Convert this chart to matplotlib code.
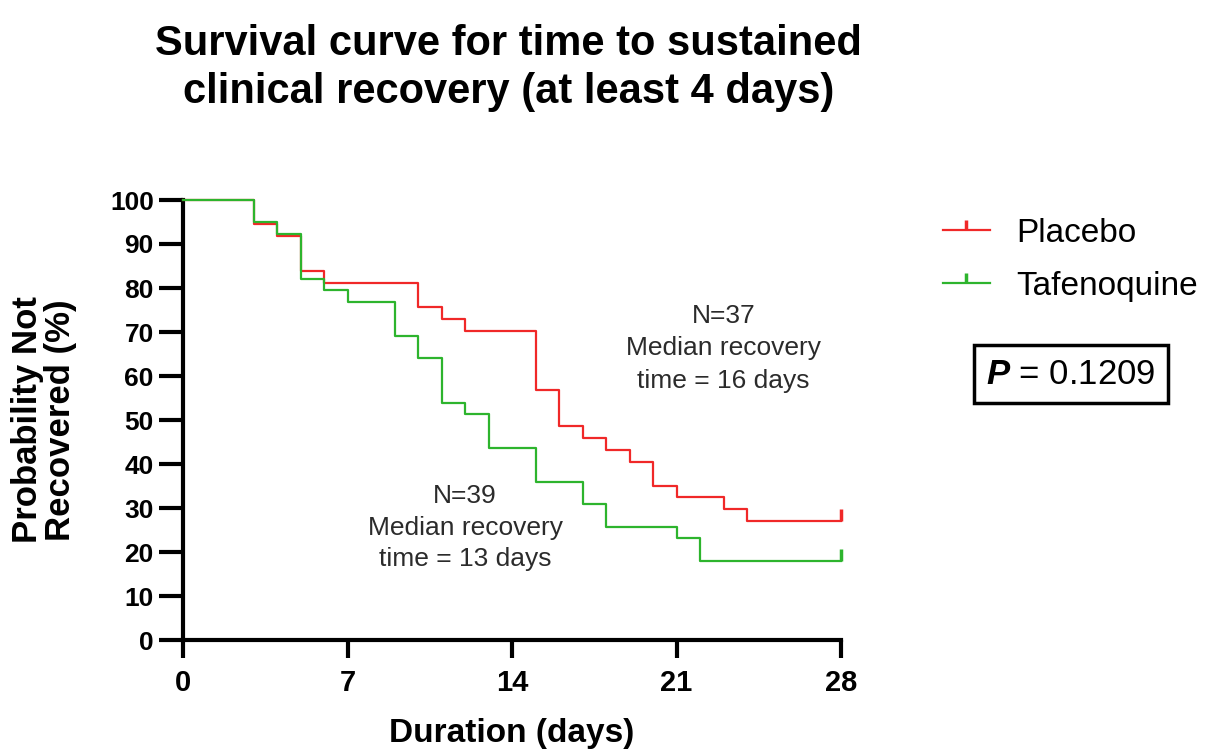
import matplotlib
matplotlib.use("Agg")
import matplotlib.pyplot as plt
from matplotlib.lines import Line2D

# 資料 (Kaplan-Meier steps)
placebo_days = [0, 3, 4, 5, 6, 10, 11, 12, 15, 16, 17, 18, 19, 20, 21, 23, 24, 28]
placebo_surv = [100, 94.6, 91.9, 83.8, 81.1, 75.7, 73.0, 70.3, 56.8, 48.6, 45.9,
                43.2, 40.5, 35.1, 32.4, 29.7, 27.0, 27.0]
tafeno_days = [0, 3, 4, 5, 6, 7, 9, 10, 11, 12, 13, 15, 17, 18, 21, 22, 28]
tafeno_surv = [100, 94.9, 92.3, 82.1, 79.5, 76.9, 69.2, 64.1, 53.8, 51.3, 43.6,
               35.9, 30.8, 25.6, 23.1, 17.9, 17.9]
x_ticks = [0, 7, 14, 21, 28]
y_ticks = list(range(0, 101, 10))

red = "#F02828"
green = "#2DB42D"

plt.rcParams["font.family"] = ["Liberation Sans", "DejaVu Sans"]
plt.rcParams["mathtext.fontset"] = "custom"
plt.rcParams["mathtext.bfit"] = "Liberation Sans:bold:italic"

fig = plt.figure(figsize=(12.11, 7.52), dpi=100)
ax = fig.add_axes([183 / 1211, 1 - 640 / 752, 658 / 1211, 440 / 752])

ax.step(placebo_days, placebo_surv, where="post", color=red, lw=1.6, clip_on=False, zorder=3)
ax.step(tafeno_days, tafeno_surv, where="post", color=green, lw=1.6, clip_on=False, zorder=3)
# censor ticks at the end
ax.plot(placebo_days[-1], placebo_surv[-1], marker=2, ms=9, mew=2.5, color=red, clip_on=False, zorder=4)
ax.plot(tafeno_days[-1], tafeno_surv[-1], marker=2, ms=9, mew=2.5, color=green, clip_on=False, zorder=4)

ax.set_xlim(0, 28)
ax.set_ylim(0, 100)
ax.set_xticks(x_ticks)
ax.set_yticks(y_ticks)
for s in ["top", "right"]:
    ax.spines[s].set_visible(False)
for s in ["left", "bottom"]:
    ax.spines[s].set_linewidth(3)
ax.tick_params(axis="x", length=13, width=3, labelsize=21, pad=8)
ax.tick_params(axis="y", length=17, width=3, labelsize=19, pad=4)
for lab in ax.get_xticklabels() + ax.get_yticklabels():
    lab.set_fontweight("bold")

ax.set_xlabel("Duration (days)", fontsize=24, fontweight="bold", labelpad=15)
ax.set_ylabel("Probability Not\nRecovered (%)", fontsize=25, fontweight="bold",
              labelpad=24, linespacing=1.0)

fig.text(0.42, 0.968, "Survival curve for time to sustained\nclinical recovery (at least 4 days)",
         ha="center", va="top", fontsize=30, fontweight="bold", linespacing=1.27)

# 註解文字
ax.text(23.0, 66.3, "N=37\nMedian recovery\ntime = 16 days", ha="center", va="center",
        fontsize=19, color="#2b2b2b", linespacing=1.45)
ax.text(12.0, 25.5, "N=39\nMedian recovery\ntime = 13 days", ha="center", va="center",
        fontsize=19, color="#2b2b2b", linespacing=1.4)

handles = [Line2D([], [], color=red, lw=1.6, marker=2, ms=7, mew=2.5),
           Line2D([], [], color=green, lw=1.6, marker=2, ms=7, mew=2.5)]
fig.legend(handles, ["Placebo", "Tafenoquine"], loc="upper left",
           bbox_to_anchor=(913 / 1211, 1 - 188 / 752), frameon=False, fontsize=24,
           handlelength=1.4, handletextpad=0.8, labelspacing=0.65, numpoints=1)

fig.text(1071 / 1211, 1 - 374 / 752, r"$\mathbfit{P}$ = 0.1209", ha="center", va="center",
         fontsize=25,
         bbox=dict(boxstyle="square,pad=0.35", fc="white", ec="black", lw=2.5))

fig.savefig("out.png", dpi=100)
plt.close()
